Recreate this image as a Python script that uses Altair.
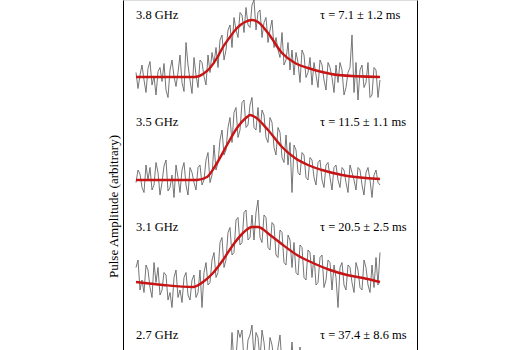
import altair as alt
import pandas as pd

# ---- data ----
freqs = ["3.8 GHz", "3.5 GHz", "3.1 GHz", "2.7 GHz"]
taus = ["τ = 7.1 ± 1.2 ms", "τ = 11.5 ± 1.1 ms", "τ = 20.5 ± 2.5 ms", "τ = 37.4 ± 8.6 ms"]
offsets = [6.15, 4.1, 2.05, 0.0]
label_y = [7.4, 5.26, 3.16, 1.0]
freq_label_x = 0
tau_label_x = 92

trace_38 = [
    0.10, -0.22, 0.05, 0.25, -0.05, -0.30, 0.18, 0.32, -0.15, 0.02,
    -0.35, 0.12, 0.20, -0.08, 0.28, -0.25, -0.40, 0.15, 0.35, 0.02,
    -0.18, 0.10, 0.45, -0.10, -0.28, 0.70, 0.25, -0.05, -0.32, 0.40,
    0.05, -0.20, 0.35, 0.30, 0.02, -0.15, 0.45, 0.10, 0.50, 0.28,
    0.60, 0.20, 0.75, 0.85, 0.35, 0.55, 0.95, 1.05, 0.60, 1.20,
    0.95, 0.80, 1.30, 1.25, 0.90, 1.40, 1.05, 1.00, 1.45, 1.55,
    0.95, 1.30, 1.35, 0.80, 1.10, 1.20, 0.70, 0.95, 1.15, 0.60,
    0.80, 0.55, 0.40, 0.90, 0.25, 0.35, 0.70, 0.15, 0.55, 0.05,
    0.50, 0.30, -0.10, 0.55, 0.45, 0.00, 0.10, 0.40, -0.15, 0.30,
    0.05, -0.20, 0.35, 0.25, -0.05, -0.25, 0.30, 0.20, 0.00, -0.30,
    0.25, -0.10, 0.30, 0.15, -0.35, -0.20, 0.10, 0.20, 0.85, -0.30,
    0.30, -0.45, 0.15, 0.25, -0.20, -0.10, 0.30, -0.40, -0.35, 0.20,
    0.15, -0.40, -0.05,
]
trace_35 = [
    -0.05, 0.20, 0.12, -0.15, -0.25, 0.30, 0.00, 0.25, -0.20, -0.10,
    0.35, 0.15, -0.30, -0.05, 0.28, 0.40, -0.22, -0.15, 0.10, -0.35,
    0.30, 0.05, -0.25, 0.20, 0.35, -0.10, -0.30, 0.25, 0.15, -0.05,
    -0.20, 0.25, 0.30, -0.10, 0.00, 0.40, 0.55, -0.05, 0.10, 0.70,
    0.20, 0.35, 0.80, 1.00, 0.50, 0.60, 1.05, 1.25, 0.75, 1.35,
    1.45, 0.85, 1.00, 1.55, 1.60, 1.05, 1.10, 1.50, 1.65, 1.05,
    1.00, 1.45, 0.95, 1.40, 1.30, 0.85, 0.75, 1.25, 1.15, 0.65,
    0.50, 1.05, 0.95, 0.45, 0.35, 0.90, 0.30, 0.75, -0.25, 0.70,
    0.60, 0.15, 0.10, 0.55, 0.50, 0.05, 0.00, 0.45, 0.40, 0.05,
    -0.10, 0.35, 0.40, 0.00, -0.15, 0.30, 0.35, 0.05, -0.20, 0.25,
    0.30, 0.00, -0.15, 0.25, 0.20, -0.05, -0.25, 0.30, 0.15, 0.00,
    -0.20, 0.25, 0.20, -0.10, -0.30, 0.15, 0.25, 0.00, -0.35, 0.10,
    0.20, -0.05, -0.10,
]
trace_31 = [
    0.30, 0.45, -0.15, 0.05, -0.20, 0.35, 0.25, -0.10, -0.30, 0.40,
    0.00, 0.30, -0.25, -0.15, 0.20, 0.15, -0.35, -0.20, -0.50, 0.10,
    0.25, -0.30, -0.15, -0.40, 0.10, 0.20, -0.25, -0.35, 0.05, 0.15,
    -0.30, -0.20, 0.25, -0.50, 0.20, 0.40, -0.05, 0.00, 0.45, 0.60,
    0.10, 0.20, 0.80, 0.90, 0.30, 0.45, 1.00, 1.10, 0.55, 0.60,
    1.25, 1.30, 0.75, 0.80, 1.40, 1.45, 0.85, 0.90, 1.35, 0.85,
    1.40, 1.65, 0.90, 0.80, 1.35, 1.30, 0.70, 0.65, 1.20, 1.15,
    0.55, 0.50, 1.05, 1.00, 0.40, 0.35, 0.95, 0.85, 0.30, 0.80,
    0.20, 0.15, 0.75, 0.70, 0.10, 0.05, 0.65, 0.60, 0.10, 0.55,
    -0.05, 0.00, 0.50, 0.55, -0.10, 0.05, 0.45, 0.40, -0.15, 0.35,
    0.10, -0.50, 0.30, 0.40, -0.05, -0.15, 0.35, 0.30, 0.00, -0.20,
    0.40, 0.25, -0.10, -0.15, 0.45, 0.30, -0.05, -0.20, 0.35, -0.10,
    0.50, -0.05, 0.60,
]
trace_27 = [
    0.10, -0.30, 0.25, -0.15, 0.30, -0.40, 0.05, 0.20, -0.25, 0.35,
    -0.10, 0.15, -0.45, 0.30, 0.00, -0.20, 0.40, -0.30, 0.10, -0.15,
    0.25, -0.35, 0.20, 0.00, -0.25, 0.35, -0.10, 0.15, -0.30, 0.30,
    -0.05, 0.20, -0.25, 0.35, 0.00, 0.25, -0.15, 0.40, 0.05, 0.45,
    0.10, 0.50, 0.55, 0.15, 0.20, 0.60, 0.65, 0.25, 1.05, 0.40,
    0.55, 1.10, 0.95, 1.10, 0.50, 0.45, 0.90, 1.00, 1.20, 0.55,
    1.05, 0.95, 0.50, 1.10, 0.85, 0.45, 0.40, 0.95, 0.80, 0.50,
    0.35, 0.75, 1.00, 0.40, 0.30, 0.70, 0.65, 0.35, 0.86, 0.30,
    0.60, 0.25, 0.76, 0.20, 0.55, 0.15, 0.50, 0.10, 0.55, 0.05,
    0.45, 0.00, 0.50, 0.10, 0.45, -0.05, 0.40, 0.05, 0.50, -0.10,
    0.35, 0.00, 0.45, -0.15, 0.30, 0.05, 0.40, -0.10, 0.35, 0.00,
    0.25, -0.20, 0.30, 0.05, 0.35, -0.15, 0.20, 0.00, 0.30, -0.25,
    0.20, 0.05, 0.15,
]
traces = [trace_38, trace_35, trace_31, trace_27]

fit38_x = [0, 29.5, 33.5, 37, 40.5, 43.5, 47, 50.5, 54.5, 58, 61, 66, 73, 79.5, 86, 93, 101, 122]
fit38_y = [0.01, 0.01, 0.07, 0.19, 0.39, 0.61, 0.81, 0.99, 1.11, 1.15, 1.11, 0.89, 0.49, 0.29, 0.19, 0.11, 0.05, 0.01]
fit35_x = [0, 30.5, 35.5, 40.5, 45.5, 50.5, 55.5, 57, 59.5, 66, 73, 79.5, 86, 93, 103, 122]
fit35_y = [0.0, 0.0, 0.06, 0.34, 0.70, 1.04, 1.26, 1.30, 1.26, 1.00, 0.66, 0.44, 0.30, 0.20, 0.10, 0.02]
fit31_x = [0, 13.5, 28.5, 33.5, 38.5, 43.5, 48.5, 53.5, 58, 61, 67, 73.5, 80.5, 88.5, 97, 105.5, 113.5, 122]
fit31_y = [0.01, -0.05, -0.09, 0.01, 0.19, 0.45, 0.75, 0.99, 1.11, 1.11, 0.95, 0.75, 0.55, 0.39, 0.25, 0.15, 0.09, 0.01]
fit27_x = [0, 30, 40, 50, 58, 70, 85, 100, 122]
fit27_y = [0.0, 0.0, 0.15, 0.45, 0.60, 0.55, 0.42, 0.30, 0.18]
fits = [(fit38_x, fit38_y), (fit35_x, fit35_y), (fit31_x, fit31_y), (fit27_x, fit27_y)]

# ---- tables ----
noise_rows, fit_rows, label_rows = [], [], []
for f, off, tr in zip(freqs, offsets, traces):
    for i, v in enumerate(tr):
        noise_rows.append({"freq": f, "x": i, "y": v + off})
for f, off, (fx, fy) in zip(freqs, offsets, fits):
    for xv, yv in zip(fx, fy):
        fit_rows.append({"freq": f, "x": xv, "y": yv + off})
for f, t, ly in zip(freqs, taus, label_y):
    label_rows.append({"x": freq_label_x, "y": ly, "text": f})
    label_rows.append({"x": tau_label_x, "y": ly, "text": t})

noise_df = pd.DataFrame(noise_rows)
fit_df = pd.DataFrame(fit_rows)
label_df = pd.DataFrame(label_rows)

FONT = "Liberation Serif"
xscale = alt.Scale(domain=[-6.5, 140.5], nice=False, zero=False)
yscale = alt.Scale(domain=[0.7, 7.7], nice=False, zero=False)

noise = alt.Chart(noise_df).mark_line(color="#666666", strokeWidth=0.9, clip=True).encode(
    x=alt.X("x:Q", scale=xscale, axis=None),
    y=alt.Y("y:Q", scale=yscale, axis=alt.Axis(
        orient="left", domain=True, domainColor="black", domainWidth=1,
        ticks=False, labels=False, grid=False,
        title="Pulse Amplitude (arbitrary)", titleFont=FONT, titleFontSize=13,
        titleFontWeight="normal", titleColor="black", titleX=-10, titleY=206,
        titleAngle=270, titleBaseline="middle", titleAlign="center")),
    detail="freq:N",
)

fit = alt.Chart(fit_df).mark_line(color="#c81414", strokeWidth=2.4, interpolate="monotone", clip=True).encode(
    x=alt.X("x:Q", scale=xscale, axis=None),
    y=alt.Y("y:Q", scale=yscale, axis=alt.Axis(
        orient="right", domain=True, domainColor="black", domainWidth=1,
        ticks=False, labels=False, grid=False, title=None)),
    detail="freq:N",
)

labels = alt.Chart(label_df).mark_text(
    align="left", baseline="middle", font=FONT, fontSize=12.5, color="black"
).encode(
    x=alt.X("x:Q", scale=xscale, axis=None),
    y=alt.Y("y:Q", scale=yscale, axis=None),
    text="text:N",
)

chart = alt.layer(noise, fit, labels).resolve_axis(y="independent").properties(
    width=294, height=350,
    autosize=alt.AutoSizeParams(type="none"),
    padding={"left": 123, "right": 108, "top": 0, "bottom": 0},
).configure_view(stroke=None).configure(background="white")

chart.save("out.html", embed_options={"renderer": "svg", "actions": False})
